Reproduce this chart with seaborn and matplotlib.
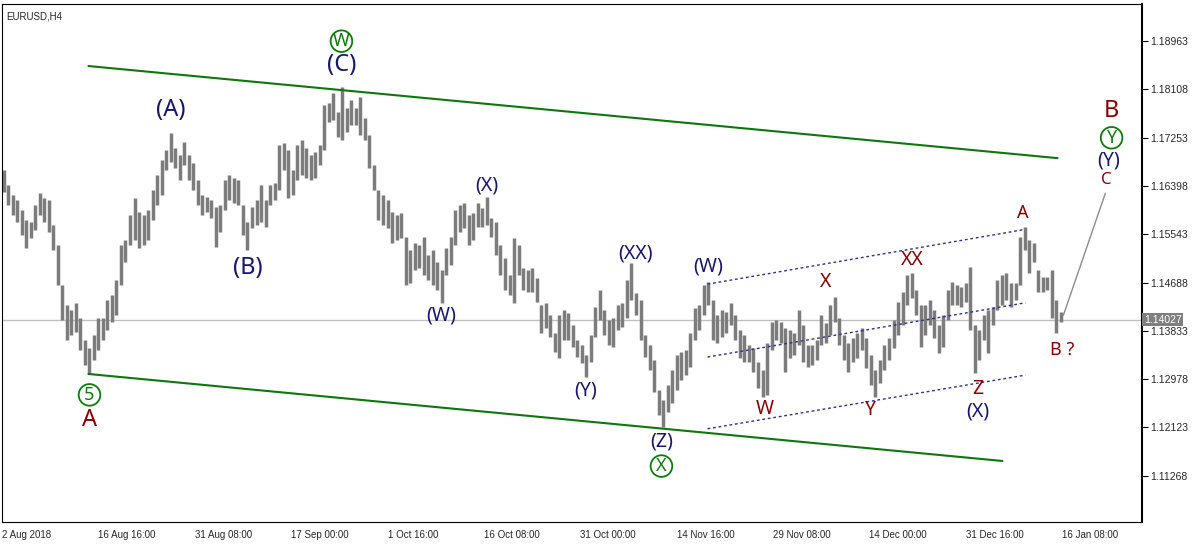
import matplotlib
matplotlib.use("Agg")
import matplotlib.pyplot as plt
import matplotlib.transforms as mtransforms
import numpy as np
import pandas as pd
import seaborn as sns

symbol = "EURUSD,H4"

# 12h bars (one entry = 3 H4 bars)
bar_high = [
    1.1668, 1.1641, 1.1624, 1.1615, 1.1597, 1.1579, 1.1576, 1.1606, 1.1627, 1.1618,
    1.1615, 1.1571, 1.1535, 1.1464, 1.1429, 1.1420, 1.1433, 1.1406, 1.1367, 1.1353,
    1.1376, 1.1406, 1.1406, 1.1438, 1.1447, 1.1473, 1.1535, 1.1544, 1.1588, 1.1618,
    1.1594, 1.1588, 1.1597, 1.1633, 1.1659, 1.1686, 1.1703, 1.1734, 1.1707, 1.1695,
    1.1718, 1.1695, 1.1680, 1.1650, 1.1624, 1.1620, 1.1615, 1.1603, 1.1606, 1.1650,
    1.1659, 1.1654, 1.1650, 1.1606, 1.1576, 1.1603, 1.1615, 1.1641, 1.1615, 1.1641,
    1.1645, 1.1712, 1.1716, 1.1703, 1.1668, 1.1712, 1.1721, 1.1707, 1.1695, 1.1700,
    1.1712, 1.1783, 1.1787, 1.1804, 1.1771, 1.1815, 1.1778, 1.1792, 1.1778, 1.1797,
    1.1760, 1.1730, 1.1677, 1.1633, 1.1624, 1.1615, 1.1594, 1.1588, 1.1592, 1.1549,
    1.1526, 1.1539, 1.1535, 1.1549, 1.1518, 1.1526, 1.1505, 1.1491, 1.1530, 1.1549,
    1.1597, 1.1606, 1.1610, 1.1588, 1.1592, 1.1610, 1.1601, 1.1620, 1.1583, 1.1576,
    1.1535, 1.1512, 1.1482, 1.1548, 1.1535, 1.1495, 1.1491, 1.1495, 1.1477, 1.1429,
    1.1433, 1.1411, 1.1379, 1.1411, 1.1420, 1.1415, 1.1394, 1.1367, 1.1358, 1.1341,
    1.1376, 1.1426, 1.1456, 1.1420, 1.1403, 1.1406, 1.1429, 1.1433, 1.1473, 1.1503,
    1.1450, 1.1438, 1.1376, 1.1358, 1.1332, 1.1279, 1.1261, 1.1287, 1.1314, 1.1341,
    1.1346, 1.1349, 1.1379, 1.1424, 1.1429, 1.1464, 1.1470, 1.1438, 1.1411, 1.1420,
    1.1417, 1.1433, 1.1411, 1.1385, 1.1376, 1.1358, 1.1353, 1.1328, 1.1314, 1.1362,
    1.1399, 1.1403, 1.1399, 1.1388, 1.1385, 1.1379, 1.1420, 1.1394, 1.1358, 1.1358,
    1.1367, 1.1411, 1.1397, 1.1429, 1.1443, 1.1406, 1.1376, 1.1362, 1.1371, 1.1379,
    1.1388, 1.1371, 1.1341, 1.1314, 1.1332, 1.1358, 1.1371, 1.1403, 1.1434, 1.1452,
    1.1482, 1.1486, 1.1456, 1.1429, 1.1429, 1.1438, 1.1420, 1.1394, 1.1411, 1.1456,
    1.1470, 1.1464, 1.1461, 1.1468, 1.1496, 1.1394, 1.1385, 1.1411, 1.1420, 1.1426,
    1.1473, 1.1482, 1.1486, 1.1468, 1.1468, 1.1549, 1.1567, 1.1544, 1.1539, 1.1491,
    1.1479, 1.1479, 1.1491, 1.1438, 1.1417,
]
bar_low = [
    1.1629, 1.1606, 1.1588, 1.1576, 1.1553, 1.1530, 1.1548, 1.1562, 1.1588, 1.1576,
    1.1558, 1.1526, 1.1464, 1.1403, 1.1367, 1.1376, 1.1381, 1.1349, 1.1323, 1.1307,
    1.1332, 1.1349, 1.1367, 1.1385, 1.1399, 1.1411, 1.1464, 1.1505, 1.1535, 1.1544,
    1.1530, 1.1535, 1.1544, 1.1579, 1.1606, 1.1624, 1.1668, 1.1682, 1.1672, 1.1650,
    1.1677, 1.1650, 1.1633, 1.1606, 1.1588, 1.1594, 1.1583, 1.1532, 1.1558, 1.1597,
    1.1615, 1.1610, 1.1606, 1.1553, 1.1526, 1.1565, 1.1571, 1.1576, 1.1567, 1.1606,
    1.1615, 1.1633, 1.1668, 1.1618, 1.1624, 1.1650, 1.1659, 1.1654, 1.1650, 1.1654,
    1.1677, 1.1703, 1.1753, 1.1756, 1.1726, 1.1721, 1.1735, 1.1748, 1.1748, 1.1730,
    1.1721, 1.1672, 1.1633, 1.1579, 1.1571, 1.1565, 1.1539, 1.1544, 1.1548, 1.1464,
    1.1468, 1.1491, 1.1495, 1.1482, 1.1473, 1.1464, 1.1456, 1.1433, 1.1482, 1.1500,
    1.1535, 1.1558, 1.1565, 1.1535, 1.1544, 1.1567, 1.1567, 1.1571, 1.1549, 1.1518,
    1.1482, 1.1456, 1.1447, 1.1433, 1.1482, 1.1456, 1.1452, 1.1452, 1.1434, 1.1379,
    1.1388, 1.1372, 1.1346, 1.1335, 1.1367, 1.1367, 1.1355, 1.1337, 1.1326, 1.1302,
    1.1328, 1.1372, 1.1403, 1.1376, 1.1358, 1.1355, 1.1385, 1.1390, 1.1406, 1.1438,
    1.1411, 1.1367, 1.1337, 1.1314, 1.1275, 1.1234, 1.1213, 1.1240, 1.1256, 1.1279,
    1.1296, 1.1305, 1.1319, 1.1367, 1.1385, 1.1411, 1.1429, 1.1367, 1.1362, 1.1372,
    1.1379, 1.1394, 1.1367, 1.1335, 1.1328, 1.1328, 1.1310, 1.1282, 1.1266, 1.1270,
    1.1349, 1.1367, 1.1362, 1.1310, 1.1335, 1.1341, 1.1358, 1.1328, 1.1319, 1.1323,
    1.1332, 1.1358, 1.1362, 1.1376, 1.1399, 1.1358, 1.1332, 1.1310, 1.1328, 1.1335,
    1.1349, 1.1318, 1.1287, 1.1266, 1.1291, 1.1314, 1.1332, 1.1353, 1.1376, 1.1394,
    1.1429, 1.1441, 1.1411, 1.1355, 1.1376, 1.1394, 1.1371, 1.1344, 1.1355, 1.1403,
    1.1429, 1.1429, 1.1426, 1.1434, 1.1385, 1.1309, 1.1332, 1.1367, 1.1344, 1.1394,
    1.1420, 1.1429, 1.1438, 1.1426, 1.1438, 1.1464, 1.1526, 1.1486, 1.1505, 1.1452,
    1.1452, 1.1456, 1.1406, 1.1379, 1.1399,
]
last_price = 1.14027

price_ticks = [1.11268, 1.12123, 1.12978, 1.13833, 1.14688,
               1.15543, 1.16398, 1.17253, 1.18108, 1.18963]
time_labels = ["2 Aug 2018", "16 Aug 16:00", "31 Aug 08:00", "17 Sep 00:00",
               "1 Oct 16:00", "16 Oct 08:00", "31 Oct 00:00", "14 Nov 16:00",
               "29 Nov 08:00", "14 Dec 00:00", "31 Dec 16:00", "16 Jan 08:00"]
bars_per_label = 64  # H4 bars between time labels

# trend lines, x in H4 bar index
upper_channel_x = [57.4, 700.9]
upper_channel_y = [1.1852, 1.1689]
lower_channel_x = [57.4, 664.3]
lower_channel_y = [1.1307, 1.1153]
dot_top_x = [468.5, 677.6]
dot_top_y = [1.1466, 1.1562]
dot_mid_x = [468.5, 679.6]
dot_mid_y = [1.1337, 1.1433]
dot_low_x = [468.5, 679.6]
dot_low_y = [1.1210, 1.1305]
projection_x = [704.8, 732.7]
projection_y = [1.1411, 1.1627]

NAVY = "#16166e"
RED = "#8b0000"
GREEN = "#0a7d0a"
BAR = "#7c7c7c"

# wave labels: text, bar index, price, colour, size
wave_labels = [
    ("(A)", 111.9, 1.1774, NAVY, 17),
    ("(B)", 163.0, 1.1495, NAVY, 17),
    ("(C)", 225.4, 1.1854, NAVY, 17),
    ("(X)", 321.7, 1.1640, NAVY, 14),
    ("(W)", 291.8, 1.1410, NAVY, 14),
    ("(XX)", 420.7, 1.1521, NAVY, 14),
    ("(Y)", 387.5, 1.1277, NAVY, 14),
    ("(Z)", 437.9, 1.1188, NAVY, 14),
    ("(W)", 469.1, 1.1498, NAVY, 14),
    ("(X)", 647.7, 1.1240, NAVY, 14),
    ("(Y)", 734.8, 1.1684, NAVY, 14),
    ("W", 506.3, 1.1245, RED, 14),
    ("X", 546.8, 1.1470, RED, 14),
    ("Y", 576.7, 1.1243, RED, 14),
    ("XX", 604.6, 1.1509, RED, 14),
    ("Z", 647.7, 1.1280, RED, 14),
    ("A", 677.6, 1.1592, RED, 13),
    ("B ?", 704.2, 1.1349, RED, 13),
    ("B", 736.8, 1.1772, RED, 17),
    ("C", 733.4, 1.1650, RED, 12),
    ("A", 58.1, 1.1226, RED, 17),
]
circle_labels = [
    ("W", 225.4, 1.1896),
    ("X", 437.9, 1.1144),
    ("Y", 736.8, 1.1725),
    ("5", 58.1, 1.1270),
]

sns.set_style("white")
plt.rcParams["font.family"] = ["Noto Sans", "DejaVu Sans"]

fig = plt.figure(figsize=(12, 5.44), dpi=100)
ax = fig.add_axes([2 / 1200, 22 / 544, 1140 / 1200, 518 / 544])

bars = pd.DataFrame({"high": bar_high, "low": bar_low})
bars["x"] = np.arange(len(bars)) * 3 + 1

ax.axhline(last_price, color="#c0c0c0", lw=1, zorder=1)
ax.vlines(bars["x"], bars["low"], bars["high"], color=BAR, lw=2.5, zorder=2)

sns.lineplot(x=upper_channel_x, y=upper_channel_y, ax=ax, color="#0c780c", lw=1.5, zorder=3)
sns.lineplot(x=lower_channel_x, y=lower_channel_y, ax=ax, color="#0c780c", lw=1.5, zorder=3)
for lx, ly in [(dot_top_x, dot_top_y), (dot_mid_x, dot_mid_y), (dot_low_x, dot_low_y)]:
    sns.lineplot(x=lx, y=ly, ax=ax, color="#30308c", lw=1, linestyle=(0, (2, 2)), zorder=3)
sns.lineplot(x=projection_x, y=projection_y, ax=ax, color="#8c8c8c", lw=1, zorder=3)

for text, x, y, col, size in wave_labels:
    ax.text(x, y, text, color=col, fontsize=size, ha="center", va="center", zorder=5)
for text, x, y in circle_labels:
    ax.text(x, y, text, color=GREEN, fontsize=13, ha="center", va="center", zorder=5,
            bbox=dict(boxstyle="circle,pad=0.1", fc="white", ec=GREEN, lw=1.3))

ax.text(0.004, 0.985, symbol, transform=ax.transAxes, fontsize=7, va="top", ha="left",
        family=["Liberation Sans", "DejaVu Sans"])

# axes, MT4 style
ax.set_xlim(0, 757)
ax.set_ylim(1.10450, 1.19618)
ax.yaxis.tick_right()
ax.set_yticks(price_ticks)
ax.set_yticklabels([f"{p:.5f}" for p in price_ticks], fontsize=7.5,
                   family=["Liberation Sans", "DejaVu Sans"])
ax.set_xticks(np.arange(len(time_labels)) * bars_per_label)
ax.set_xticklabels(time_labels, fontsize=7, ha="left",
                   family=["Liberation Sans", "DejaVu Sans"])
ax.tick_params(axis="both", direction="out", length=4, width=0.8, color="black", pad=2)
for side, sp in ax.spines.items():
    sp.set_color("black")
    sp.set_linewidth(1.5 if side == "right" else 0.8)

trans = mtransforms.blended_transform_factory(ax.transAxes, ax.transData)
ax.text(1.0015, last_price, f"{last_price:.5f}", transform=trans, fontsize=7.5,
        color="white", va="center", ha="left", family=["Liberation Sans", "DejaVu Sans"],
        bbox=dict(boxstyle="square,pad=0.15", fc="#7f7f7f", ec="none"), zorder=6)

fig.savefig("out.png", dpi=100)
